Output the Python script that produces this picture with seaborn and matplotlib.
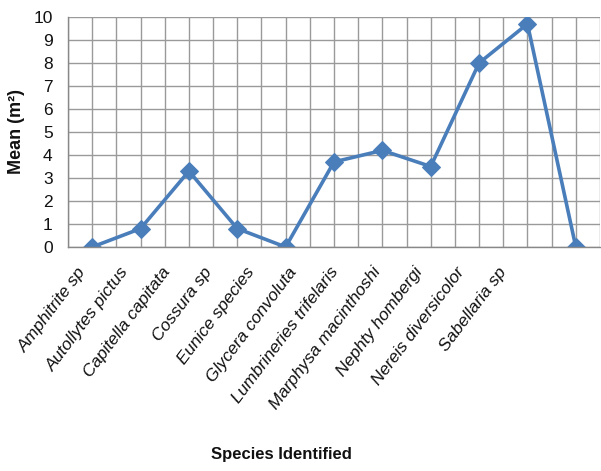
import matplotlib
matplotlib.use("Agg")
import matplotlib.pyplot as plt
import matplotlib.transforms as mtransforms
import seaborn as sns
import pandas as pd
import numpy as np

species = ["Amphitrite sp", "Autollytes pictus", "Capitella capitata", "Cossura sp",
           "Eunice species", "Glycera convoluta", "Lumbrineries trifelaris",
           "Marphysa macinthoshi", "Nephty hombergi", "Nereis diversicolor", "Sabellaria sp"]
means = [0, 0.8, 3.3, 0.8, 0, 3.7, 4.2, 3.5, 8.0, 9.7, 0]

df = pd.DataFrame({"pos": np.arange(len(species)), "species": species, "mean": means})

sns.set_theme(style="white")
plt.rcParams['font.family'] = ['Liberation Sans', 'DejaVu Sans']

fig = plt.figure(figsize=(6.01, 4.71), dpi=100)
ax = fig.add_axes([68/601, 1-247/471, (600-68)/601, (247-17)/471])

color = "#4A7EBB"
sns.lineplot(data=df, x="pos", y="mean", ax=ax, color=color, linewidth=2.6,
             marker="D", markersize=9, markeredgecolor=color, markerfacecolor=color)

ax.set_xlim(-0.5, len(species) - 0.5)
ax.set_ylim(0, 10)
ax.set_yticks(range(0, 11))
ax.set_xticks(df["pos"])
ax.set_xticklabels([])
# the reference's labels sit on a slightly narrower spacing than the plotted points
base = ax.get_xaxis_transform()
for i, name in enumerate(species):
    dx = (-9 - 6.3 * i) / 100.0
    dy = -22 / 100.0
    tr = base + mtransforms.ScaledTranslation(dx, dy, fig.dpi_scale_trans)
    ax.text(i, 0, name, transform=tr, rotation=53, ha="right", va="center",
            rotation_mode="anchor", fontstyle="italic", fontsize=12.5, color="#111111")
ax.set_xticks(np.arange(-0.5, len(species), 1.0), minor=True)
ax.tick_params(axis="x", which="major", length=0)
ax.tick_params(axis="x", which="minor", length=5, color="#888888", direction="out")
ax.tick_params(axis="y", length=5, color="#888888", direction="out", labelsize=12.5,
               pad=6, labelcolor="#111111")
ax.grid(True, which="major", axis="both", color="#9a9a9a", linewidth=1.0)
ax.grid(True, which="minor", axis="x", color="#9a9a9a", linewidth=1.0)
ax.set_axisbelow(True)
for s in ["top", "right"]:
    ax.spines[s].set_visible(False)
for s in ["left", "bottom"]:
    ax.spines[s].set_color("#888888")
    ax.spines[s].set_linewidth(1.0)

ax.set_ylabel("Mean (m²)", fontweight="bold", fontsize=13, labelpad=6, color="#111111")
ax.set_xlabel("")
fig.text(281/601, 1-454/471, "Species Identified", ha="center", va="center",
         fontsize=12, fontweight="bold", color="#111111")

fig.savefig("out.png", dpi=100)
